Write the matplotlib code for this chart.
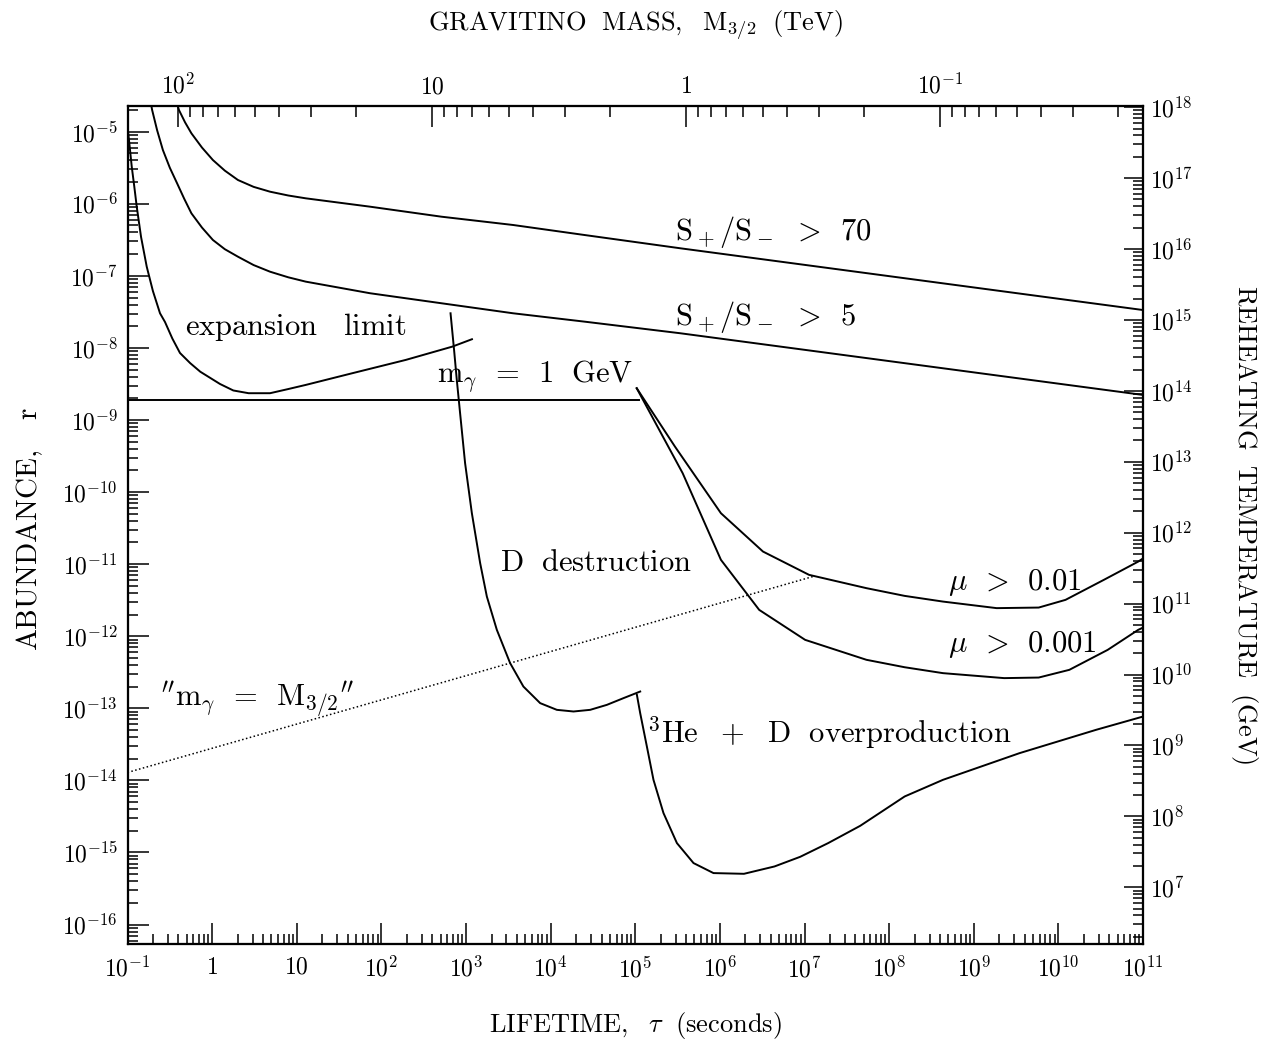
"""
Gravitino lifetime vs abundance constraints (log-log), with mass and
reheating temperature as secondary scales.
"""
import numpy as np
import matplotlib
matplotlib.use("Agg")
import matplotlib.pyplot as plt
from matplotlib.ticker import LogLocator, FuncFormatter, NullFormatter

plt.rcParams["font.family"] = "serif"
plt.rcParams["font.serif"] = ["cmr10", "DejaVu Serif"]
plt.rcParams["mathtext.fontset"] = "cm"
plt.rcParams["axes.unicode_minus"] = False
plt.rcParams["axes.formatter.use_mathtext"] = True

# all curves as log10(lifetime / s), log10(abundance r)
s70_lt = [-0.41, -0.392, -0.32, -0.245, -0.12, 0.009, 0.15, 0.305, 0.49, 0.684, 0.9, 1.106,
          1.866, 2.710, 3.556, 4.400, 5.531, 11.0]
s70_lr = [-4.63, -4.699, -4.87, -5.022, -5.22, -5.393, -5.54, -5.670, -5.765, -5.832, -5.885, -5.924,
          -6.040, -6.179, -6.294, -6.433, -6.617, -7.474]

s5_lt = [-0.72, -0.709, -0.65, -0.582, -0.5, -0.414, -0.33, -0.245, -0.12, 0.009, 0.15, 0.305,
         0.49, 0.684, 0.9, 1.106, 1.866, 2.710, 3.556, 4.400, 5.531, 11.0]
s5_lr = [-4.63, -4.699, -4.98, -5.254, -5.50, -5.716, -5.93, -6.132, -6.33, -6.502, -6.63, -6.734,
         -6.85, -6.942, -7.02, -7.080, -7.241, -7.380, -7.519, -7.635, -7.796, -8.652]

exp_lt = [-1.0, -0.975, -0.95, -0.92, -0.891, -0.84, -0.773, -0.70, -0.616, -0.557, -0.47, -0.38,
          -0.26, -0.14, 0.093, 0.25, 0.431, 0.684, 0.9, 1.106, 1.655, 2.288, 2.837, 3.070]
exp_lr = [-4.93, -5.2, -5.485, -5.76, -6.040, -6.46, -6.872, -7.21, -7.519, -7.64, -7.87, -8.07,
          -8.21, -8.33, -8.50, -8.59, -8.628, -8.628, -8.57, -8.513, -8.351, -8.166, -7.982, -7.879]

# m_gamma = 1 GeV horizontal bound
gev_lt = [-1.0, 5.04]
gev_lr = [-8.72, -8.72]

mu01_lt = [5.017, 5.469, 6.012, 6.509, 7.053, 7.732, 8.183, 8.636, 9.270, 9.767, 10.084, 10.536, 10.943, 11.0]
mu01_lr = [-8.559, -9.369, -10.293, -10.825, -11.148, -11.333, -11.44, -11.519, -11.610, -11.602, -11.495,
           -11.218, -10.964, -10.92]

mu001_lt = [5.017, 5.560, 6.012, 6.464, 7.007, 7.732, 8.183, 8.636, 9.359, 9.767, 10.129, 10.582, 10.943, 11.0]
mu001_lr = [-8.559, -9.738, -10.940, -11.634, -12.050, -12.327, -12.43, -12.512, -12.581, -12.573, -12.466,
            -12.189, -11.911, -11.88]

# "m_gamma = M_3/2" dotted line
mm_lt = [-1.0, 7.098]
mm_lr = [-13.89, -11.172]

# D destruction
dd_lt = [2.817, 2.859, 2.891, 2.930, 2.989, 3.069, 3.167, 3.246, 3.364, 3.521, 3.678, 3.876,
         4.073, 4.270, 4.467, 4.664, 4.860, 5.058]
dd_lr = [-7.519, -8.03, -8.444, -8.906, -9.599, -10.293, -10.986, -11.449, -11.911, -12.373, -12.698, -12.928,
         -13.021, -13.044, -13.021, -12.952, -12.859, -12.767]

# 3He + D overproduction
he_lt = [5.019, 5.058, 5.137, 5.215, 5.333, 5.492, 5.688, 5.924, 6.284, 6.645, 6.949, 7.279,
         7.658, 8.183, 8.636, 9.540, 10.446, 11.0]
he_lr = [-12.813, -13.067, -13.530, -13.992, -14.453, -14.870, -15.147, -15.286, -15.296, -15.194, -15.06, -14.870,
         -14.63, -14.223, -13.992, -13.622, -13.298, -13.114]

# axis ranges and scale conversions
tau_lim = (1e-1, 1e11)
r_lim = (10 ** -16.27, 10 ** -4.65)
T_lim = (10 ** 6.2, 10 ** 18.01)
tau_1tev = 4e5          # lifetime (s) of a 1 TeV gravitino, tau ~ M^-3


def pow10(v, pos):
    e = int(round(np.log10(v)))
    if e == 0:
        return "$1$"
    if e == 1:
        return "$10$"
    return r"$10^{%d}$" % e


def curve(ax, lt, lr, **kw):
    ax.plot(10 ** np.array(lt), 10 ** np.array(lr), color="black", solid_joinstyle="round", **kw)


fig = plt.figure(figsize=(12.65, 10.4), dpi=100)
ax = fig.add_axes([0.1008, 0.0923, 0.8028, 0.8053])
ax.set_xscale("log")
ax.set_yscale("log")
ax.set_xlim(*tau_lim)
ax.set_ylim(*r_lim)

lw = 1.4
for lt, lr in ((s70_lt, s70_lr), (s5_lt, s5_lr), (exp_lt, exp_lr), (gev_lt, gev_lr),
               (mu01_lt, mu01_lr), (mu001_lt, mu001_lr), (dd_lt, dd_lr), (he_lt, he_lr)):
    curve(ax, lt, lr, lw=lw)
curve(ax, mm_lt, mm_lr, lw=1.1, ls=(0, (1, 1.6)))

fs = 22
labels = [
    (5.472, -6.391, r"$\mathrm{S}_+/\mathrm{S}_-\ \,>\ \,70$"),
    (5.472, -7.570, r"$\mathrm{S}_+/\mathrm{S}_-\ \,>\ \,5$"),
    (-0.320, -7.709, r"$\mathrm{expansion\ \ \ limit}$"),
    (2.658, -8.402, r"$\mathrm{m}_\gamma\ \,=\ \,\mathrm{1\ \ GeV}$"),
    (3.403, -10.982, r"$\mathrm{D\ \ destruction}$"),
    (8.699, -11.26, r"$\mu\ \,>\ \,0.01$"),
    (8.699, -12.12, r"$\mu\ \,>\ \,0.001$"),
    (-0.616, -12.882, r"$^{\prime\prime}\mathrm{m}_\gamma\ \,=\ \,\mathrm{M}_{3/2}{}^{\prime\prime}$"),
    (5.14, -13.34, r"$^3\mathrm{He\ \ +\ \ D\ \ overproduction}$"),
]
for lt, lr, txt in labels:
    ax.text(10 ** lt, 10 ** lr, txt, fontsize=fs, ha="left", va="center")

# secondary scales
axt = ax.twiny()
axt.set_xscale("log")
axt.set_xlim((tau_1tev / tau_lim[0]) ** (1 / 3), (tau_1tev / tau_lim[1]) ** (1 / 3))
axr = ax.twinx()
axr.set_yscale("log")
axr.set_ylim(*T_lim)

tick_fs = 17
for axis in (ax.xaxis, ax.yaxis, axt.xaxis, axr.yaxis):
    axis.set_major_locator(LogLocator(base=10, numticks=30))
    axis.set_minor_locator(LogLocator(base=10, subs=np.arange(2, 10), numticks=30))
    axis.set_major_formatter(FuncFormatter(pow10))
    axis.set_minor_formatter(NullFormatter())

ax.tick_params(which="both", direction="in", top=False, right=False, width=1.1, labelsize=tick_fs)
ax.tick_params(which="major", length=15)
ax.tick_params(which="minor", length=7)
ax.tick_params(axis="x", pad=9)
ax.tick_params(axis="y", pad=7)
axt.tick_params(which="both", direction="in", width=1.1, labelsize=tick_fs, pad=6)
axt.tick_params(which="major", length=15)
axt.tick_params(which="minor", length=8)
axr.tick_params(which="both", direction="in", width=1.1, labelsize=tick_fs, pad=5)
axr.tick_params(which="major", length=14)
axr.tick_params(which="minor", length=7)

for a in (ax, axt, axr):
    for sp in a.spines.values():
        sp.set_linewidth(1.5)
    # empty offset texts are not needed on log axes
    a.xaxis.offsetText.set_visible(False)
    a.yaxis.offsetText.set_visible(False)

lab_fs = 19
fig.text(0.502, 0.976, r"$\mathrm{GRAVITINO\ \ MASS,\ \ M_{3/2}\ \ (TeV)}$", fontsize=lab_fs, ha="center", va="center")
fig.text(0.502, 0.0144, r"$\mathrm{LIFETIME,}\ \ \tau\ \ \mathrm{(seconds)}$", fontsize=lab_fs, ha="center", va="center")
fig.text(0.0237, 0.492, r"$\mathrm{ABUNDANCE,\ \ \ r}$", fontsize=21, ha="center", va="center", rotation=90)
fig.text(0.984, 0.495, r"$\mathrm{REHEATING\ \ TEMPERATURE\ \ (GeV)}$", fontsize=lab_fs, ha="center", va="center", rotation=270)

fig.savefig("out.png", dpi=100)
